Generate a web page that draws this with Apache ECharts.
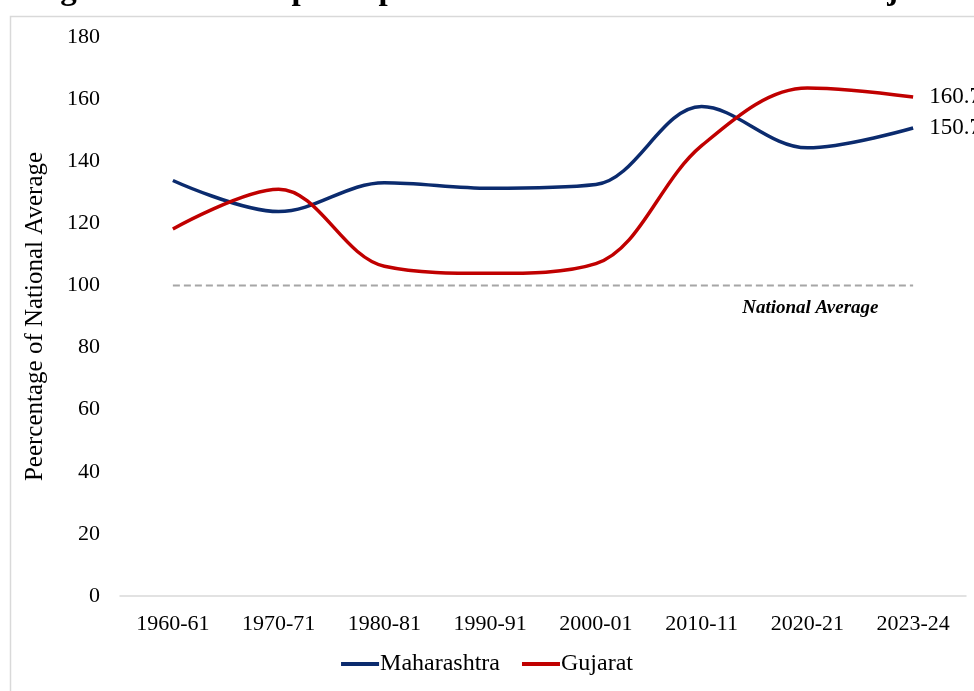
<!DOCTYPE html>
<html>
<head>
<meta charset="utf-8">
<script src="https://cdn.jsdelivr.net/npm/echarts@6/dist/echarts.min.js"></script>
<style>
  html, body { margin: 0; padding: 0; background: #fff; }
  #main { width: 974px; height: 691px; }
</style>
</head>
<body>
<div id="main"></div>
<script>
var years = ['1960-61', '1970-71', '1980-81', '1990-91', '2000-01', '2010-11', '2020-21', '2023-24'];
var maharashtra = [133.8, 123.8, 133.1, 131.3, 132.5, 157.6, 144.3, 150.7];
var gujarat = [118.2, 131.0, 106.2, 103.9, 107.0, 145.0, 163.6, 160.7];
var nationalAvg = [100, 100, 100, 100, 100, 100, 100, 100];
var yTicks = [0, 20, 40, 60, 80, 100, 120, 140, 160, 180];

var serif = "'Liberation Serif', 'DejaVu Serif', serif";
var myChart = echarts.init(document.getElementById('main'));

var option = {
	backgroundColor: '#ffffff',
	textStyle: { fontFamily: serif },
	title: {
		text: 'Figure 4: Relative per capita income of Maharashtra and Gujarat',
		left: 26,
		top: -31,
		textStyle: { fontFamily: serif, fontSize: 33, fontWeight: 'bold', color: '#000' }
	},
	graphic: [{
		type: 'rect',
		left: 8,
		top: 14,
		shape: { width: 1000, height: 700 },
		style: { fill: 'none', stroke: '#d9d9d9', lineWidth: 1.5 },
		z: -1
	}],
	grid: { left: 120, right: 8, top: 37, bottom: 95 },
	legend: {
		data: ['Maharashtra', 'Gujarat'],
		bottom: 10,
		left: 'center',
		icon: 'rect',
		itemWidth: 38,
		itemHeight: 4,
		itemGap: 22,
		textStyle: { fontFamily: serif, fontSize: 24, color: '#000', padding: [0, 0, 0, -4] }
	},
	xAxis: {
		type: 'category',
		data: years,
		boundaryGap: true,
		axisLine: { lineStyle: { color: '#d9d9d9', width: 1.5 } },
		axisTick: { show: false },
		axisLabel: { fontFamily: serif, fontSize: 22, color: '#000', margin: 17 }
	},
	yAxis: {
		type: 'value',
		min: yTicks[0],
		max: yTicks[yTicks.length - 1],
		interval: 20,
		name: 'Peercentage of National Average',
		nameLocation: 'middle',
		nameGap: 72,
		nameTextStyle: { fontFamily: serif, fontSize: 25, color: '#000' },
		axisLine: { show: false },
		axisTick: { show: false },
		splitLine: { show: false },
		axisLabel: { fontFamily: serif, fontSize: 22, color: '#000', margin: 20 }
	},
	series: [{
		name: 'Maharashtra',
		type: 'line',
		data: maharashtra,
		smooth: 0.35,
		symbol: 'none',
		lineStyle: { color: '#0b2b6e', width: 3.5 },
		itemStyle: { color: '#0b2b6e' },
		endLabel: { show: true, formatter: '{c}', fontFamily: serif, fontSize: 23, color: '#000', distance: 16 }
	}, {
		name: 'Gujarat',
		type: 'line',
		data: gujarat,
		smooth: 0.35,
		symbol: 'none',
		lineStyle: { color: '#c00000', width: 3.5 },
		itemStyle: { color: '#c00000' },
		endLabel: { show: true, formatter: '{c}', fontFamily: serif, fontSize: 23, color: '#000', distance: 16 }
	}, {
		name: 'National Average',
		type: 'line',
		data: nationalAvg,
		symbol: 'none',
		silent: true,
		lineStyle: { color: '#a6a6a6', width: 2, type: [7, 4] },
		markPoint: {
			symbol: 'circle',
			symbolSize: 1,
			itemStyle: { color: 'rgba(0,0,0,0)' },
			data: [{ coord: ['2020-21', 100] }],
			label: {
				show: true,
				position: 'inside',
				formatter: 'National Average',
				offset: [3, 23],
				fontFamily: serif,
				fontSize: 19,
				fontWeight: 'bold',
				fontStyle: 'italic',
				color: '#000'
			}
		}
	}]
};
myChart.setOption(option);
</script>
</body>
</html>
